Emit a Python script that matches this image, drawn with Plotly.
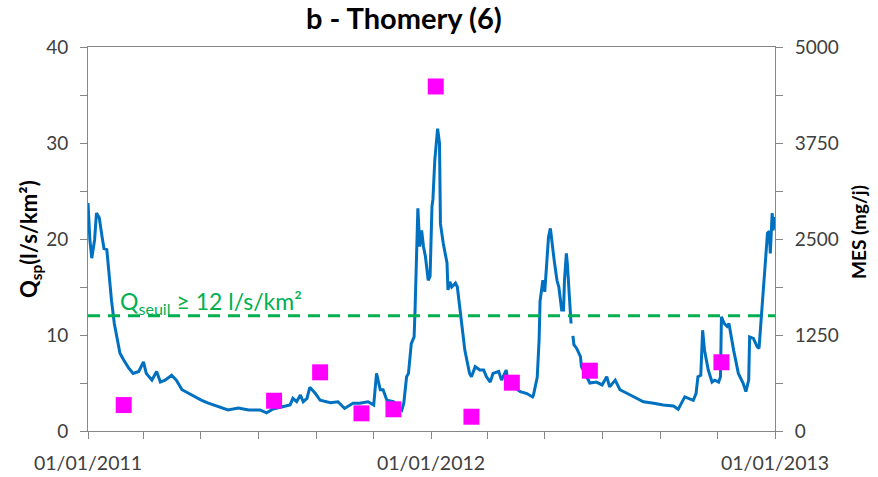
import pandas as pd
import plotly.graph_objects as go

# ---- data ----
start = pd.Timestamp("2011-01-01")

# specific discharge Q_sp (l/s/km²): day offset since 01/01/2011, value (None = gap)
q_days = [0, 2, 4, 7, 9, 12, 15, 17, 20, 22, 25, 28, 31, 34, 38, 43, 48, 54, 59, 62,
          68, 73, 77, 82, 89, 94, 100, 110, 121, 128, 139, 149, 160, 171, 183, 190,
          197, 208, 215, 218, 222, 226, 229, 233, 236, 242, 247, 258, 266, 273, 282,
          289, 298, 304, 307, 311, 314, 318, 325, 334, 336, 339, 341, 344, 347, 348,
          350, 351, 353, 355, 357, 359, 362, 364, 366, 367, 369, 372, 374, 375, 378,
          382, 383, 385, 387, 391, 393, 396, 401, 406, 408, 412, 417, 421, 424, 428,
          431, 437, 440, 445, 447, 460, 467, 473, 474, 478, 480, 481, 483, 484, 486,
          488, 490, 492, 493, 496, 499, 501, 504, 506, 507, 509, 510, 512, 514, 515,
          516, 517, 520, 522, 524, 525, 534, 541, 547, 552, 555, 561, 566, 577, 591,
          602, 612, 623, 628, 635, 644, 647, 649, 652, 654, 656, 660, 664, 667, 671,
          673, 674, 677, 680, 682, 687, 692, 697, 700, 703, 704, 708, 712, 714, 717,
          720, 723, 725, 726, 728, 729, 731]
q_vals = [23.75, 19.9, 18.0, 19.9, 22.7, 22.2, 20.2, 19.0, 18.9, 16.5, 13.6, 11.2, 9.5,
          8.1, 7.4, 6.6, 6.0, 6.2, 7.2, 6.0, 5.3, 6.2, 5.1, 5.3, 5.8, 5.3, 4.3, 3.75,
          3.2, 2.9, 2.5, 2.2, 2.4, 2.2, 2.2, 1.9, 2.3, 2.5, 2.7, 3.4, 3.05, 3.75, 3.05,
          3.4, 4.55, 3.9, 3.2, 2.95, 3.05, 2.35, 2.9, 2.9, 3.05, 2.7, 6.0, 4.3, 4.3,
          3.2, 3.05, 2.2, 2.9, 5.65, 6.0, 9.1, 9.8, 12.6, 19.55, 23.2, 19.2, 20.9, 19.2,
          18.2, 15.7, 16.1, 23.4, 24.1, 28.2, 31.5, 30.0, 21.6, 19.55, 17.5, 14.7, 15.55,
          15.0, 15.4, 15.0, 12.6, 8.4, 6.0, 5.65, 6.7, 6.35, 6.35, 5.65, 5.1, 6.0, 6.2,
          5.3, 6.35, 5.0, 4.1, 3.9, 3.55, 3.75, 5.6, 9.5, 13.5, 15.5, 15.7, 14.5, 17.8,
          20.2, 21.1, 20.2, 17.8, 15.7, 15.0, 12.6, 12.6, 15.7, 18.5, 17.5, 14.0, 11.2,
          None, 9.9, 9.0, 8.6, 8.1, 7.75, 6.7, 5.0, 5.1, 4.8, 5.65, 4.6, 5.3, 4.3, 3.75,
          3.05, 2.9, 2.7, 2.6, 2.25, 3.55, 3.2, 3.9, 5.65, 5.8, 10.5, 8.4, 6.35, 5.1,
          5.3, 5.1, 5.65, 11.9, 11.2, 10.9, 11.2, 8.4, 6.0, 5.0, 4.1, 5.3, 9.8, 9.65,
          8.8, 8.6, 12.6, 16.4, 20.6, 20.8, 18.5, 22.7, 20.9, 22.3]

# suspended matter flux MES (mg/j) samples
mes_days = [38, 198, 247, 291, 325, 370, 408, 451, 534, 674]
mes_vals = [338, 394, 764, 230, 283, 4486, 186, 629, 785, 895]

q_threshold = 12
x_tick_vals = ["2011-01-01", "2012-01-01", "2013-01-01"]
x_tick_text = ["01/01/2011", "01/01/2012", "01/01/2013"]

q_dates = [start + pd.Timedelta(days=d) for d in q_days]
mes_dates = [start + pd.Timedelta(days=d) for d in mes_days]

FONT = "Lato"
AXIS_COL = "#868686"
TXT_COL = "#404040"

fig = go.Figure()
fig.add_trace(go.Scatter(x=q_dates, y=q_vals, mode="lines",
                         line=dict(color="#0070C0", width=3),
                         connectgaps=False, showlegend=False))
fig.add_trace(go.Scatter(x=[start, pd.Timestamp("2013-01-01")],
                         y=[q_threshold, q_threshold], mode="lines",
                         line=dict(color="#00B050", width=3, dash="12px,8px"),
                         showlegend=False))
fig.add_trace(go.Scatter(x=mes_dates, y=mes_vals, mode="markers", yaxis="y2",
                         marker=dict(symbol="square", size=16, color="#FF00FF",
                                     line=dict(width=0)),
                         showlegend=False))

fig.update_layout(
    width=878, height=477,
    margin=dict(l=88, r=103, t=47, b=46, autoexpand=False),
    paper_bgcolor="white", plot_bgcolor="white",
    showlegend=False,
    font=dict(family=FONT, size=19, color=TXT_COL),
    title=dict(text="<b>b - Thomery (6)</b>", x=0.46, xanchor="center",
               y=1 - 19 / 477, yanchor="middle",
               font=dict(family=FONT, size=29, color="black")),
    xaxis=dict(type="date", range=["2011-01-01", "2013-01-01"],
               tickvals=x_tick_vals, ticktext=x_tick_text, automargin=False,
               ticks="outside", ticklen=7, tickcolor=AXIS_COL,
               showline=True, linecolor=AXIS_COL, linewidth=1, mirror=True,
               showgrid=False, zeroline=False, ticklabelstandoff=8,
               minor=dict(dtick="M2", tick0="2011-01-01", ticks="outside",
                          ticklen=7, tickcolor=AXIS_COL, showgrid=False),
               tickfont=dict(size=19.5, color=TXT_COL)),
    yaxis=dict(range=[0, 40], dtick=10, ticks="outside", ticklen=7,
               tickcolor=AXIS_COL, showline=True, linecolor=AXIS_COL,
               showgrid=False, zeroline=False, ticklabelstandoff=8,
               automargin=False,
               minor=dict(dtick=5, ticks="outside", ticklen=7,
                          tickcolor=AXIS_COL, showgrid=False),
               tickfont=dict(size=19, color=TXT_COL)),
    yaxis2=dict(range=[0, 5000], dtick=1250, overlaying="y", side="right",
                ticks="outside", ticklen=7, tickcolor=AXIS_COL,
                showline=True, linecolor=AXIS_COL, showgrid=False,
                zeroline=False, ticklabelstandoff=8, automargin=False,
                minor=dict(dtick=625, ticks="outside", ticklen=7,
                           tickcolor=AXIS_COL, showgrid=False),
                tickfont=dict(size=19, color=TXT_COL)),
)

fig.add_annotation(text="<b>Q<sub>sp</sub>(l/s/km²)</b>", textangle=-90,
                   xref="paper", yref="paper", x=(30 - 88) / 687, y=0.5,
                   xanchor="center", yanchor="middle", showarrow=False,
                   font=dict(family=FONT, size=22, color="black"))
fig.add_annotation(text="<b>MES (mg/j)</b>", textangle=-90,
                   xref="paper", yref="paper", x=(858 - 88) / 687,
                   y=(431 - 232) / 384, xanchor="center", yanchor="middle",
                   showarrow=False,
                   font=dict(family=FONT, size=19, color="black"))
fig.add_annotation(text="Q<sub>seuil</sub> ≥ 12 l/s/km²",
                   xref="paper", yref="y", x=(118 - 88) / 687, y=13.35,
                   xanchor="left", yanchor="middle", showarrow=False,
                   font=dict(family=FONT, size=23, color="#00B050"))

fig.write_html("out.html", config={"displayModeBar": False},
               post_script="document.body.style.margin='0px';"
                           "document.body.style.padding='0px';")
